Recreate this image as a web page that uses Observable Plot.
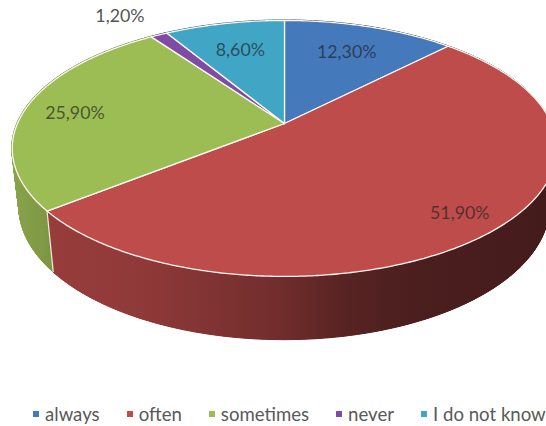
<!DOCTYPE html>
<html>
<head>
<meta charset="utf-8">
<script src="https://cdn.jsdelivr.net/npm/d3@7"></script>
<script src="https://cdn.jsdelivr.net/npm/@observablehq/plot@0.6"></script>
<style>
  html, body { margin: 0; padding: 0; background: #fff; overflow: hidden; }
  #chart svg { display: block; }
  #legend {
    display: flex; height: 24px; padding-top: 2px; align-items: center; padding-left: 33px;
    font: 18.6px Lato, sans-serif; color: #595959; white-space: nowrap;
  }
  #legend span.item { display: inline-flex; align-items: center; margin-right: 27px; }
  #legend span.item:last-child { margin-right: 0; }
  #legend i { width: 6px; height: 6px; margin-right: 6px; display: inline-block; }
</style>
</head>
<body>
<div id="chart"></div>
<div id="legend"></div>
<script>
// Survey answers, in percent, clockwise from twelve o'clock.
const categories = ["always", "often", "sometimes", "never", "I do not know"];
const shares = [12.3, 51.9, 25.9, 1.2, 8.6];
const labels = ["12,30%", "51,90%", "25,90%", "1,20%", "8,60%"];
const palette = ["#4479bc", "#bd4c4b", "#9cbc54", "#7e4ca4", "#41a5c6"];
// How far along its radius each label sits (1 = rim), and a small vertical nudge.
const labelReach = [0.695, 0.857, 0.81, 1.33, 0.7];
const labelNudge = [-1, 1, 3, 5, 0];

// Tilted-disc camera: plain disc coordinates to page coordinates.
const W = 546, H = 400;
const cx = 284, cy = 123, spanX = 267, spanY = 123.1, tilt = 0.195;
const wallDrop = 57.6, wallScaleX = 0.974, wallScaleY = 1.04;

function project(angle, r = 1, floor = false) {
  const u = r * Math.sin(angle), v = r * Math.cos(angle), w = 1 + tilt * v;
  const sx = floor ? wallScaleX : 1, sy = floor ? wallScaleY : 1;
  return {
    x: cx + sx * spanX * u / w,
    y: cy + (floor ? wallDrop : 0) - sy * spanY * v / w
  };
}

// Cumulative slice angles from the values.
const total = d3.sum(shares);
const ends = d3.cumsum(shares).map((s) => (s / total) * 2 * Math.PI);
const slices = categories.map((name, i) => ({
  name, i, start: i ? ends[i - 1] : 0, end: ends[i], color: palette[i]
}));

const arc = (s, step = Math.PI / 360) =>
  d3.range(s.start, s.end, step).concat(s.end);

// Light falls from the left, so the wall darkens towards the right.
const lightStops = [
  [10, 0.88], [50, 0.8], [150, 0.75], [280, 0.59], [340, 0.47], [400, 0.41], [546, 0.36]
];
const tint = (color, k) => {
  const c = d3.rgb(color);
  return d3.rgb(c.r * k, c.g * k, c.b * k).formatHex();
};

// Wall samples for one slice: top rim point paired with floor rim point.
const wallRow = (s, t, strip) => {
  const top = project(t), low = project(t, 1, true);
  return {
    name: s.name, strip, x1: top.x, y1: top.y, x2: low.x, y2: low.y,
    paint: `url(#wall-${s.i})`
  };
};

// Thin quads trace the wall's true outline where the rims cross near the sides.
const wallQuads = slices.flatMap((s) =>
  d3.pairs(arc(s)).flatMap(([a, b], j) =>
    [a, b].map((t) => wallRow(s, t, `${s.i}-${j}`))
  )
);
// One continuous band per slice lies over them for a smooth surface.
const wallBands = slices.flatMap((s) => arc(s).map((t) => wallRow(s, t, s.name)));

// Closed outline of each slice on the top face.
const faces = slices.flatMap((s) => {
  const centre = { ...project(0, 0), name: s.name, color: s.color };
  const rim = arc(s).map((t) => ({ ...project(t), name: s.name, color: s.color }));
  return [centre, ...rim, centre];
});

// Seams on the wall where two slices meet.
const seams = slices.map((s) => {
  const top = project(s.start), low = project(s.start, 1, true);
  return { x1: top.x, y1: top.y, x2: low.x, y2: low.y };
});

const tags = slices.map((s, i) => {
  const p = project((s.start + s.end) / 2, labelReach[i]);
  return { x: p.x, y: p.y + labelNudge[i], text: labels[i], outside: labelReach[i] > 1 };
});

const plot = Plot.plot({
  width: W, height: H,
  margin: 0,
  x: { domain: [0, W], range: [0, W], axis: null },
  y: { domain: [0, H], range: [0, H], axis: null },
  color: { type: "identity" },
  style: { background: "#fff", overflow: "hidden" },
  marks: [
    Plot.area(wallQuads, {
      x1: "x1", y1: "y1", x2: "x2", y2: "y2", z: "strip",
      fill: "paint", stroke: "paint", strokeWidth: 1, curve: "linear"
    }),
    Plot.area(wallBands, {
      x1: "x1", y1: "y1", x2: "x2", y2: "y2", z: "strip",
      fill: "paint", curve: "linear"
    }),
    Plot.link(seams, {
      x1: "x1", y1: "y1", x2: "x2", y2: "y2",
      stroke: "#f4f0e0", strokeWidth: 1.2
    }),
    Plot.line(faces, {
      x: "x", y: "y", z: "name", fill: "color",
      stroke: "#fdf6f2", strokeWidth: 1.3, curve: "linear", strokeLinejoin: "round"
    }),
    Plot.text(tags.filter((d) => !d.outside), {
      x: "x", y: "y", text: "text", fontSize: 17.8, fontFamily: "Lato, sans-serif",
      fill: "#1f1f1f", fillOpacity: 0.68
    }),
    Plot.text(tags.filter((d) => d.outside), {
      x: "x", y: "y", text: "text", dx: -5, fontSize: 17.8,
      fontFamily: "Lato, sans-serif", fill: "#555"
    })
  ]
});

// Horizontal shading for the walls, one gradient per slice.
const defs = d3.select(plot).insert("defs", ":first-child");
slices.forEach((s) => {
  const gradient = defs.append("linearGradient")
    .attr("id", `wall-${s.i}`)
    .attr("gradientUnits", "userSpaceOnUse")
    .attr("x1", 0).attr("y1", 0).attr("x2", W).attr("y2", 0);
  lightStops.forEach(([x, k]) => {
    gradient.append("stop")
      .attr("offset", x / W)
      .attr("stop-color", tint(s.color, k));
  });
});
document.getElementById("chart").append(plot);

// Legend row under the pie.
const legend = d3.select("#legend");
categories.forEach((name, i) => {
  const item = legend.append("span").attr("class", "item");
  item.append("i").style("background", palette[i]);
  item.append("span").text(name);
});
</script>
</body>
</html>
